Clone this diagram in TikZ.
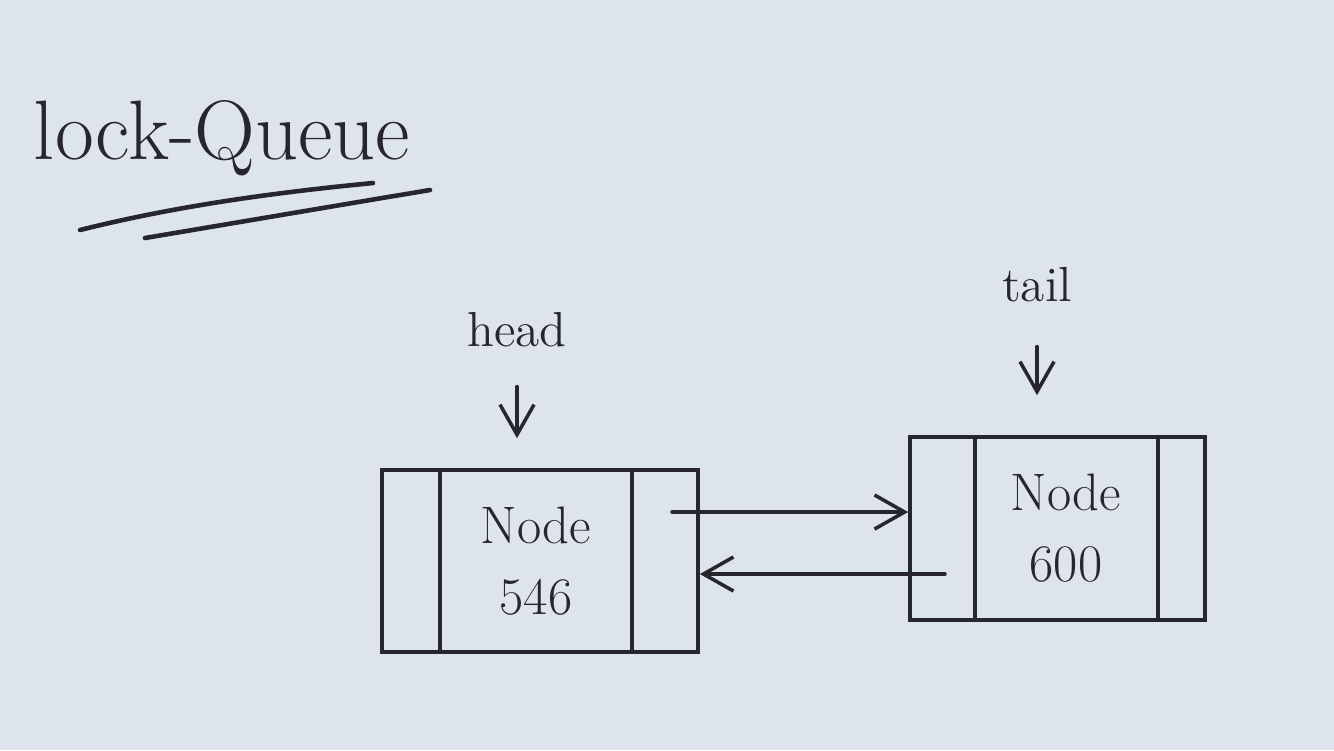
\documentclass[tikz,border=0pt]{standalone}
\usetikzlibrary{arrows.meta}
\definecolor{paper}{RGB}{222,228,236}
\definecolor{ink}{RGB}{38,38,44}
\begin{document}
\begin{tikzpicture}[x=0.01cm,y=-0.01cm,
  inkline/.style={draw=ink,line width=1pt,line cap=round},
  cellbox/.style={inkline,rectangle,inner sep=0pt,align=center,text=ink,font=\fontsize{15}{20}\selectfont},
  ptr/.style={inkline,-{Straight Barb[length=3mm,width=3.4mm]}},
  lbl/.style={text=ink,font=\fontsize{14}{17}\selectfont,inner sep=1pt}]
\fill[paper] (0,0) rectangle (1334,750);
\useasboundingbox (0,0) rectangle (1334,750);

% title
\node[text=ink,font=\fontsize{24}{28}\selectfont] (title) at (222,138) {lock-Queue};
\draw[inkline,line width=1.3pt] (80,230) .. controls (180,205) and (280,192) .. (373,183);
\draw[inkline,line width=1.3pt] (145,238) .. controls (240,222) and (340,205) .. (430,190);

% node 546
\node[cellbox,minimum width=3.16cm,minimum height=1.82cm] (n546) at (540,561) {};
\draw[inkline] (440,470) -- (440,652);
\draw[inkline] (632,470) -- (632,652);
\node[text=ink,font=\fontsize{15}{20}\selectfont,align=center] (t546) at (536,561) {Node\\546};

% node 600
\node[cellbox,minimum width=2.95cm,minimum height=1.83cm] (n600) at (1057.5,528.5) {};
\draw[inkline] (975,437) -- (975,620);
\draw[inkline] (1158,437) -- (1158,620);
\node[text=ink,font=\fontsize{15}{20}\selectfont,align=center] (t600) at (1066,528) {Node\\600};

% head / tail
\node[lbl] (head) at (517,330) {head};
\draw[ptr] ([yshift=-0.35cm]head.south) -- ([yshift=0.3cm]head.south |- n546.north);
\node[lbl] (tail) at (1037,285) {tail};
\draw[ptr] ([yshift=-0.4cm]tail.south) -- ([yshift=0.4cm]tail.south |- n600.north);

% links
\coordinate (nextp) at (672,512);
\draw[ptr] (nextp) -- (nextp -| n600.west);
\coordinate (prevp) at (945,574);
\draw[ptr] (prevp) -- (prevp -| n546.east);
\end{tikzpicture}
\end{document}
